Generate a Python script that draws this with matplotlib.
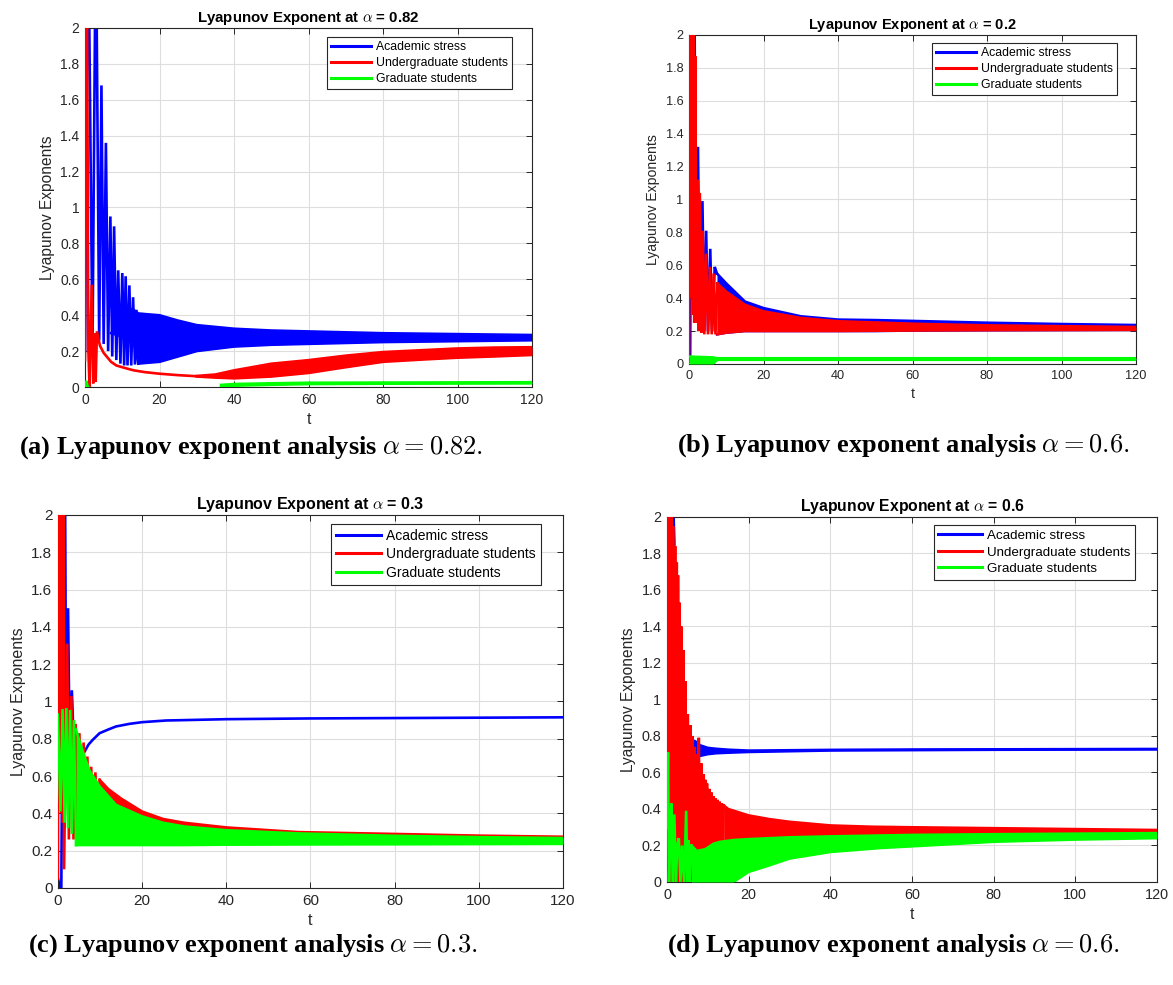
import matplotlib
matplotlib.use("Agg")
import matplotlib.pyplot as plt
from matplotlib.lines import Line2D
from matplotlib.ticker import FormatStrFormatter

plt.rcParams['font.family'] = ['Liberation Sans', 'DejaVu Sans']
plt.rcParams['mathtext.fontset'] = 'cm'

BLUE, RED, GREEN = '#0000ff', '#ff0000', '#00ff00'
labels = ['Academic stress', 'Undergraduate students', 'Graduate students']

# ---- (a) alpha = 0.82 ----
a_blue_t = [0, 0.6, 1.1, 2.0, 2.7, 3.1, 3.8, 4.4, 5.0, 5.6, 6.2, 6.8, 7.3, 7.8, 8.4, 8.9,
            9.5, 10.0, 10.5, 10.9, 11.4, 11.9, 12.4, 12.9, 13.4, 13.8, 14.3]
a_blue_y = [0.2, 2.1, 2.1, 0.2, 2.1, 2.1, 0.26, 1.68, 0.24, 1.36, 0.2, 0.95, 0.17, 0.895, 0.15, 0.65,
            0.13, 0.635, 0.12, 0.617, 0.12, 0.566, 0.12, 0.50, 0.125, 0.43, 0.13]
a_blue_bt = [7, 10, 13, 14.3, 17, 20, 25, 30, 40, 50, 60, 80, 100, 120]
a_blue_hi = [0.45, 0.45, 0.43, 0.41, 0.405, 0.40, 0.37, 0.345, 0.325, 0.315, 0.31, 0.30, 0.295, 0.29]
a_blue_lo = [0.30, 0.28, 0.26, 0.13, 0.135, 0.14, 0.17, 0.20, 0.225, 0.235, 0.24, 0.25, 0.255, 0.26]

a_red_t = [0, 0.15, 0.55, 0.9, 1.2, 1.8, 2.2, 2.6, 2.85, 3.2, 4, 5, 6, 7, 8.4, 10, 13, 16, 20, 25, 30]
a_red_y = [0.15, 2.1, 2.1, 0.2, 0.0, 0.57, 0.02, 0.30, 0.03, 0.31, 0.23, 0.19, 0.165, 0.14, 0.12,
           0.11, 0.093, 0.083, 0.074, 0.066, 0.06]
a_red_bt = [30, 35, 40, 50, 60, 70, 80, 90, 100, 110, 120]
a_red_hi = [0.062, 0.07, 0.093, 0.13, 0.15, 0.175, 0.195, 0.205, 0.215, 0.22, 0.222]
a_red_lo = [0.058, 0.052, 0.048, 0.058, 0.078, 0.11, 0.14, 0.152, 0.163, 0.17, 0.178]

a_green_t = [0, 0.3, 0.6, 0.9]
a_green_y = [0.0, 0.035, 0.01, 0.0]
a_green_bt = [36.5, 40, 50, 60, 80, 100, 120]
a_green_hi = [0.012, 0.017, 0.021, 0.024, 0.025, 0.026, 0.027]
a_green_lo = [0.004, 0.007, 0.012, 0.016, 0.018, 0.019, 0.02]

# ---- (b) alpha = 0.2 ----
b_blue_t = [0.3, 0.7, 1.5, 1.8, 2.4, 2.9, 3.6, 4.1, 4.6, 5.1, 5.7, 6.2, 6.9, 7.5]
b_blue_y = [0.0, 2.1, 2.1, 0.3, 1.32, 0.25, 0.99, 0.2, 0.81, 0.2, 0.70, 0.2, 0.59, 0.55]
b_blue_bt = [7.5, 10, 15, 20, 30, 40, 50, 60, 80, 100, 120]
b_blue_hi = [0.55, 0.49, 0.38, 0.34, 0.29, 0.27, 0.267, 0.262, 0.251, 0.243, 0.237]
b_blue_lo = [0.18, 0.19, 0.2, 0.2, 0.2, 0.2, 0.2, 0.203, 0.205, 0.206, 0.207]

b_red_t = [0, 0.35, 0.5, 0.65, 0.8, 0.95, 1.1, 1.25, 1.4, 1.7, 1.9, 2.2, 2.5, 2.9, 3.3, 3.7,
           4.1, 4.6, 5.1, 5.6, 6.1, 6.6, 7.1, 7.6]
b_red_y = [0.02, 2.1, 0.6, 2.1, 0.4, 2.1, 0.3, 2.1, 0.25, 1.87, 0.25, 1.12, 0.2, 1.04, 0.19, 0.81,
           0.18, 0.67, 0.18, 0.59, 0.18, 0.55, 0.18, 0.49]
b_red_bt = [7.6, 10, 15, 20, 30, 40, 60, 80, 100, 120]
b_red_hi = [0.49, 0.44, 0.36, 0.32, 0.28, 0.26, 0.245, 0.235, 0.23, 0.225]
b_red_lo = [0.18, 0.19, 0.2, 0.2, 0.2, 0.2, 0.203, 0.205, 0.206, 0.207]

b_green_t = []
b_green_y = []
b_green_bt = [0, 6.5, 7.5, 120]
b_green_hi = [0.045, 0.04, 0.035, 0.035]
b_green_lo = [0.0, 0.0, 0.025, 0.025]

# ---- (c) alpha = 0.3 ----
c_blue_t = [0, 0.5, 0.8, 1.4, 1.7, 2.0, 2.4, 2.8, 3.3, 3.8, 4.5, 5.2, 6.3, 7.3, 8.3, 9.9, 12,
            13.8, 17, 20, 25.7, 30, 40, 50, 60, 80, 100, 120]
c_blue_y = [0.05, 0.0, 0.0, 2.1, 2.1, 0.5, 1.5, 0.7, 1.06, 0.75, 0.72, 0.70, 0.73, 0.77, 0.795,
            0.83, 0.85, 0.866, 0.88, 0.889, 0.898, 0.90, 0.905, 0.907, 0.909, 0.911, 0.913, 0.915]
c_blue_bt = []
c_blue_hi = []
c_blue_lo = []

c_red_t = [0, 0.15, 0.3, 0.45, 0.6, 0.75, 0.9, 1.05, 1.2, 1.3, 1.45, 2.2, 2.6, 3.2, 3.7, 4.2,
           4.6, 5.1, 5.6, 6.1, 6.5, 7.0, 7.4, 7.9, 8.4, 8.9, 9.4, 9.9]
c_red_y = [0.05, 2.1, 0.5, 2.1, 0.45, 2.1, 0.4, 2.1, 0.35, 2.1, 0.1, 1.31, 0.26, 1.03, 0.26, 0.88,
           0.25, 0.83, 0.25, 0.78, 0.24, 0.705, 0.24, 0.65, 0.24, 0.62, 0.24, 0.58]
c_red_bt = [9.9, 12, 15, 20, 25, 30, 40, 57, 80, 100, 120]
c_red_hi = [0.58, 0.53, 0.48, 0.41, 0.37, 0.35, 0.325, 0.30, 0.29, 0.281, 0.275]
c_red_lo = [0.24, 0.24, 0.24, 0.24, 0.24, 0.24, 0.24, 0.24, 0.24, 0.24, 0.24]

c_green_t = [0, 0.6, 1.1, 1.6, 2.0, 2.4, 2.9, 3.3, 3.8, 4.3]
c_green_y = [0.93, 0.41, 0.96, 0.35, 0.965, 0.32, 0.955, 0.29, 0.90, 0.23]
c_green_bt = [4.3, 5.1, 6.3, 7.5, 9.9, 13.8, 20, 25, 30, 40, 57, 80, 100, 120]
c_green_hi = [0.85, 0.79, 0.705, 0.63, 0.545, 0.446, 0.384, 0.35, 0.33, 0.31, 0.293, 0.28, 0.273, 0.268]
c_green_lo = [0.23, 0.23, 0.23, 0.23, 0.23, 0.23, 0.23, 0.23, 0.23, 0.232, 0.233, 0.234, 0.235, 0.236]

# ---- (d) alpha = 0.6 ----
d_blue_t = [0, 0.6, 1.5, 1.8, 2.2]
d_blue_y = [0.7, 2.1, 2.1, 1.87, 0.75]
d_blue_bt = [2.2, 5, 6, 7, 8, 10, 12, 15, 20, 30, 40, 60, 80, 100, 120]
d_blue_hi = [0.75, 0.78, 0.78, 0.77, 0.75, 0.735, 0.73, 0.725, 0.72, 0.722, 0.724, 0.726, 0.727, 0.728, 0.729]
d_blue_lo = [0.68, 0.68, 0.68, 0.685, 0.69, 0.70, 0.705, 0.708, 0.712, 0.716, 0.72, 0.722, 0.724, 0.725, 0.726]

d_red_t = [0.1, 0.28, 0.45, 0.62, 0.8, 0.98, 1.15, 1.32, 1.5, 1.75, 2.0, 2.2, 2.4, 2.55, 2.7, 2.9,
           3.1, 3.3, 3.5, 3.75, 4.0, 4.25, 4.5, 4.8, 5.1, 5.4, 5.7, 5.95, 6.2, 6.5, 6.8, 7.05,
           7.3, 7.55, 7.8, 8.1, 8.4, 8.7, 9.0, 9.2, 9.4, 9.6, 9.8, 10.1, 10.4, 10.65, 10.9, 11.15,
           11.4, 11.6, 11.8, 12.1, 12.4, 12.65, 12.9, 13.15, 13.4, 13.65, 13.9]
d_red_y = [2.1, 0, 2.1, 0, 2.1, 0, 2.1, 0, 1.95, 0, 1.84, 0, 1.75, 0, 1.68, 0.02,
           1.53, 0, 1.4, 0, 1.27, 0, 1.1, 0, 0.92, 0, 0.86, 0, 0.8, 0, 0.74, 0,
           0.7, 0, 0.79, 0.02, 0.65, 0.03, 0.59, 0.05, 0.56, 0.06, 0.54, 0.08, 0.51, 0.1, 0.49, 0.11,
           0.47, 0.12, 0.46, 0.13, 0.45, 0.14, 0.44, 0.15, 0.43, 0.16, 0.42]
d_red_bt = [13.9, 15, 20, 25, 30, 40, 50, 60, 80, 100, 120]
d_red_hi = [0.42, 0.40, 0.365, 0.345, 0.33, 0.31, 0.303, 0.30, 0.295, 0.29, 0.285]
d_red_lo = [0.16, 0.18, 0.22, 0.235, 0.245, 0.255, 0.26, 0.263, 0.267, 0.27, 0.27]

d_green_t = [0, 0.25, 0.5, 0.8, 1.1, 1.4, 1.8, 2.2, 2.5, 2.9, 3.3, 3.7, 4.2, 4.7, 5.0, 5.3, 5.6, 6.0]
d_green_y = [0.3, 0.71, 0.0, 0.3, 0.43, 0.0, 0.37, 0.0, 0.2, 0.24, 0.0, 0.2, 0.0, 0.39, 0.0, 0.23, 0.0, 0.2]
d_green_bt = [6, 7.3, 9.4, 11.4, 13, 16.3, 20, 25, 30, 40, 52.5, 60, 80, 100, 120]
d_green_hi = [0.2, 0.17, 0.18, 0.21, 0.22, 0.23, 0.235, 0.24, 0.245, 0.25, 0.255, 0.258, 0.262, 0.265, 0.268]
d_green_lo = [0, 0, 0, 0, 0, 0, 0.055, 0.09, 0.128, 0.164, 0.186, 0.195, 0.22, 0.232, 0.24]

panels = [
    dict(rect=[0.0725, 0.6071, 0.3811, 0.3645], alpha='0.82', cap='(a) Lyapunov exponent analysis $\\alpha = 0.82.$',
         cpos=(19, 454), fs=10, yfs=11.2, tfs=10.8, lfs=8.8, anchor=(0.955, 0.975),
         data=[(BLUE, a_blue_t, a_blue_y, a_blue_bt, a_blue_hi, a_blue_lo),
               (RED, a_red_t, a_red_y, a_red_bt, a_red_hi, a_red_lo),
               (GREEN, a_green_t, a_green_y, a_green_bt, a_green_hi, a_green_lo)]),
    dict(rect=[0.5874, 0.6305, 0.3811, 0.3340], alpha='0.2', cap='(b) Lyapunov exponent analysis $\\alpha = 0.6.$',
         cpos=(677, 452), fs=9.2, yfs=10.1, tfs=10.5, lfs=8.8, anchor=(0.9575, 0.976),
         data=[(BLUE, b_blue_t, b_blue_y, b_blue_bt, b_blue_hi, b_blue_lo),
               (RED, b_red_t, b_red_y, b_red_bt, b_red_hi, b_red_lo),
               (GREEN, b_green_t, b_green_y, b_green_bt, b_green_hi, b_green_lo)]),
    dict(rect=[0.0494, 0.0985, 0.4305, 0.3787], alpha='0.3', cap='(c) Lyapunov exponent analysis $\\alpha = 0.3.$',
         cpos=(28, 952), fs=11, yfs=11.5, tfs=11.5, lfs=10, anchor=(0.956, 0.976),
         data=[(BLUE, c_blue_t, c_blue_y, c_blue_bt, c_blue_hi, c_blue_lo),
               (RED, c_red_t, c_red_y, c_red_bt, c_red_hi, c_red_lo),
               (GREEN, c_green_t, c_green_y, c_green_bt, c_green_hi, c_green_lo)]),
    dict(rect=[0.5686, 0.1046, 0.4177, 0.3706], alpha='0.6', cap='(d) Lyapunov exponent analysis $\\alpha = 0.6.$',
         cpos=(667, 952), fs=10.4, yfs=11.2, tfs=11.3, lfs=9.6, anchor=(0.955, 0.978),
         data=[(BLUE, d_blue_t, d_blue_y, d_blue_bt, d_blue_hi, d_blue_lo),
               (RED, d_red_t, d_red_y, d_red_bt, d_red_hi, d_red_lo),
               (GREEN, d_green_t, d_green_y, d_green_bt, d_green_hi, d_green_lo)]),
]

W, H = 1173, 985
fig = plt.figure(figsize=(W / 100, H / 100), dpi=100)

for p in panels:
    ax = fig.add_axes(p['rect'])
    for z, (col, t, y, bt, hi, lo) in enumerate(p['data']):
        zz = 2 + z
        if bt:
            ax.fill_between(bt, lo, hi, color=col, lw=0, zorder=zz)
            ax.plot(bt, hi, color=col, lw=1.8, zorder=zz)
            ax.plot(bt, lo, color=col, lw=1.8, zorder=zz)
        if t:
            ax.plot(t, y, color=col, lw=1.9, zorder=zz, solid_joinstyle='miter')

    ax.set_xlim(0, 120)
    ax.set_ylim(0, 2)
    ax.set_xticks(range(0, 121, 20))
    ax.set_yticks([i / 5 for i in range(11)])
    ax.yaxis.set_major_formatter(FormatStrFormatter('%g'))
    ax.grid(True, color='#dedede', lw=0.8, zorder=0)
    ax.set_axisbelow(True)
    ax.tick_params(direction='in', length=4, width=0.7, top=True, right=True,
                   labelsize=p['fs'], colors='#262626', pad=4)
    for s in ax.spines.values():
        s.set_color('#262626')
        s.set_linewidth(0.8)
    ax.set_xlabel('t', fontsize=p['yfs'], color='#262626')
    ax.set_ylabel('Lyapunov Exponents', fontsize=p['yfs'], color='#262626', labelpad=4)
    ax.set_title('Lyapunov Exponent at $\\alpha$ = ' + p['alpha'], fontsize=p['tfs'],
                 fontweight='bold', pad=4.5)

    handles = [Line2D([], [], color=c, lw=2.2) for c in (BLUE, RED, GREEN)]
    leg = ax.legend(handles, labels, loc='upper right', bbox_to_anchor=p['anchor'], borderaxespad=0,
                    fontsize=p['lfs'], fancybox=False, framealpha=1, edgecolor='#262626',
                    handlelength=3.3, handletextpad=0.35, labelspacing=0.32, borderpad=0.35)
    leg.get_frame().set_linewidth(0.8)

    fig.text(p['cpos'][0] / W, 1 - p['cpos'][1] / H, p['cap'], family='Liberation Serif',
             fontweight='bold', fontsize=19, ha='left', va='baseline')

fig.savefig('out.png', dpi=100)
